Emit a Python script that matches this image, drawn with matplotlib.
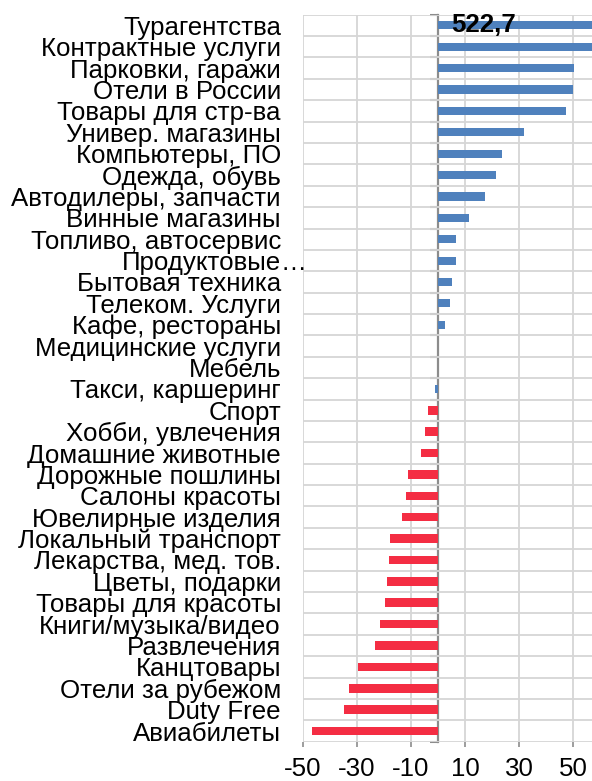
import matplotlib
matplotlib.use("Agg")
import matplotlib.pyplot as plt
import numpy as np

categories = [
    "Турагентства", "Контрактные услуги", "Парковки, гаражи", "Отели в России",
    "Товары для стр-ва", "Универ. магазины", "Компьютеры, ПО", "Одежда, обувь",
    "Автодилеры, запчасти", "Винные магазины", "Топливо, автосервис", "Продуктовые…",
    "Бытовая техника", "Телеком. Услуги", "Кафе, рестораны", "Медицинские услуги",
    "Мебель", "Такси, каршеринг", "Спорт", "Хобби, увлечения", "Домашние животные",
    "Дорожные пошлины", "Салоны красоты", "Ювелирные изделия", "Локальный транспорт",
    "Лекарства, мед. тов.", "Цветы, подарки", "Товары для красоты", "Книги/музыка/видео",
    "Развлечения", "Канцтовары", "Отели за рубежом", "Duty Free", "Авиабилеты",
]
values = [
    522.7, 65.0, 50.3, 50.0, 47.2, 32.0, 23.8, 21.4, 17.5, 11.4, 6.8, 6.7,
    5.1, 4.6, 2.6, 0.1, -0.1, -1.3, -3.7, -4.8, -6.3, -11.1, -11.9, -13.3,
    -17.8, -18.1, -18.9, -19.6, -21.5, -23.2, -29.6, -33.0, -34.8, -46.7,
]
n_growth = 18  # first group (blue series), remainder second group (red series)
x_ticks = [-50, -30, -10, 10, 30, 50]
labelled_value = 522.7

plt.rcParams['font.family'] = ['Liberation Sans', 'DejaVu Sans']
FS = 18.6

fig = plt.figure(figsize=(5.92, 7.81), dpi=100)
ax = fig.add_axes([0.5118, 0.0503, 0.4882, 0.9309])

blue = "#4F81BD"
red = "#F42D43"
y = np.arange(len(categories))
ax.barh(y[:n_growth], values[:n_growth], height=0.38, color=blue, zorder=3)
ax.barh(y[n_growth:], values[n_growth:], height=0.40, color=red, zorder=3)

xmin, xmax = -50, 57
ax.set_xlim(xmin, xmax)
ax.set_ylim(len(categories) - 0.5, -0.5)

# grid
ax.set_xticks(x_ticks)
ax.set_xticklabels([str(t) for t in x_ticks], fontsize=FS)
ax.set_yticks(np.arange(len(categories) + 1) - 0.5, minor=True)
ax.grid(True, axis='x', which='major', color='#D6D6D6', linewidth=1.3, zorder=0)
ax.grid(True, axis='y', which='minor', color='#D6D6D6', linewidth=1.3, zorder=0)
ax.tick_params(axis='x', which='major', direction='out', length=3.8, width=1.2,
               color='#8C8C8C', pad=7, labelsize=FS)
ax.tick_params(axis='y', which='minor', length=0)

# category labels
labels = []
for c in categories:
    labels.append(c[:-1] if c.endswith("…") else c)
ax.set_yticks(y)
ax.set_yticklabels(labels, fontsize=FS)
pad_pt = 15.9
ax.tick_params(axis='y', which='major', length=0, pad=pad_pt)
for yi, c in zip(y, categories):
    if c.endswith("…"):
        ax.annotate("…", xy=(0, yi), xycoords=('axes fraction', 'data'),
                    xytext=(-pad_pt, 0), textcoords='offset points',
                    ha='left', va='center_baseline', fontsize=FS)

for s in ax.spines.values():
    s.set_visible(False)

# zero axis with category-boundary ticks
zero_pos = (0 - xmin) / (xmax - xmin)
sec = ax.secondary_yaxis(zero_pos)
sec.set_yticks(np.arange(len(categories) + 1) - 0.5)
sec.set_yticklabels([])
sec.tick_params(axis='y', direction='out', length=5.5, width=1.5, color='#8C8C8C')
sec.spines['left'].set_color('#8C8C8C')
sec.spines['left'].set_linewidth(1.6)
for k in ('right', 'top', 'bottom'):
    sec.spines[k].set_visible(False)

# data label for the clipped top bar
ax.text(17, 0, f"{labelled_value:.1f}".replace('.', ','), ha='center',
        va='center', fontsize=FS, fontweight='bold', zorder=5)

fig.savefig("out.png", dpi=100)
